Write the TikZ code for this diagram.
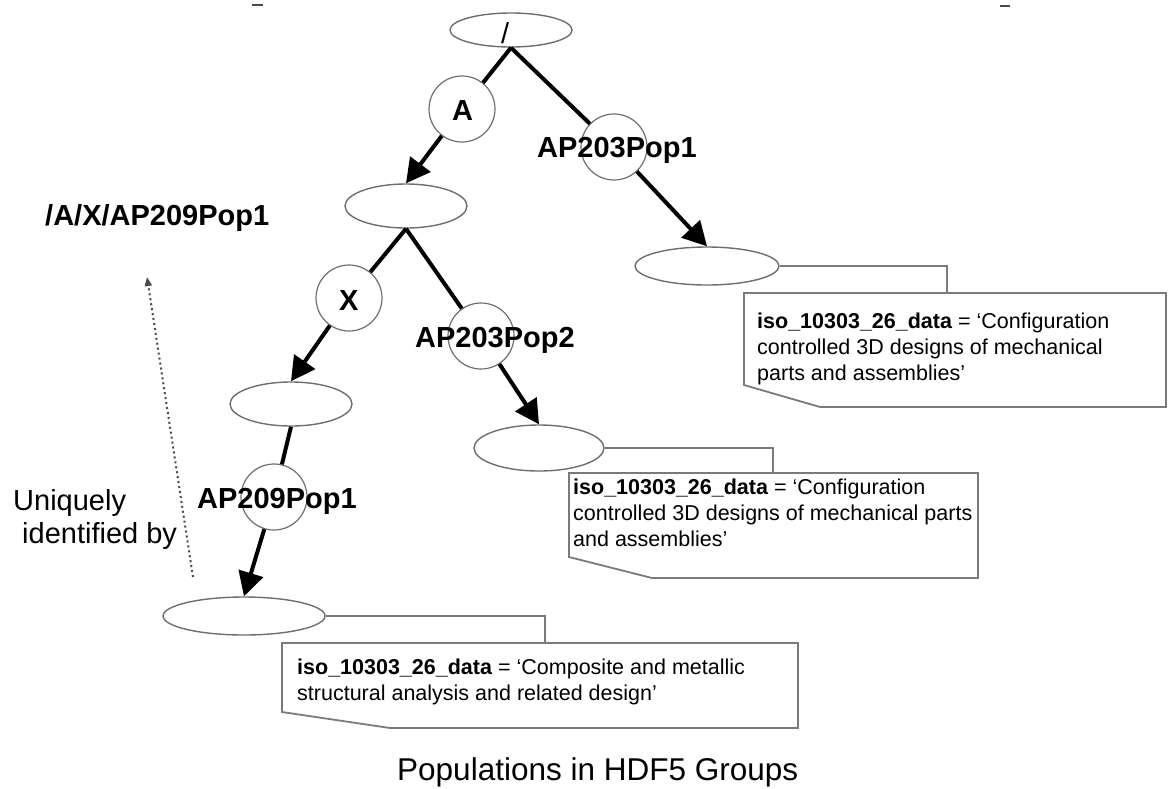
\documentclass[tikz,border=0pt]{standalone}
\usepackage{fontspec}
\setmainfont{Liberation Sans}
\usetikzlibrary{shapes.geometric,arrows.meta}

\definecolor{ringgray}{HTML}{6E6E6E}
\definecolor{boxgray}{HTML}{7A7A7A}
\definecolor{dotgray}{HTML}{4A4A4A}

\begin{document}
\begin{tikzpicture}[x=1pt,y=-1pt,
  grp/.style={ellipse,draw=ringgray,line width=1.4pt,fill=white,inner sep=0pt},
  lnk/.style={circle,draw=ringgray,line width=1.2pt,inner sep=0pt,minimum size=66pt},
  lbl/.style={font=\fontsize{29}{33}\selectfont\bfseries,inner sep=0pt,anchor=base west},
  plain/.style={font=\fontsize{29}{33}\selectfont,inner sep=0pt,anchor=base west},
  solidline/.style={line width=4pt},
  arr/.style={solidline,-{Triangle[length=24pt,width=25pt]}},
  callout/.style={draw=boxgray,line width=1.8pt,fill=white,line join=miter},
  leader/.style={draw=boxgray,line width=1.6pt},
  note/.style={font=\fontsize{21.5}{26}\selectfont,align=left,inner sep=0pt,anchor=north west},
]
\useasboundingbox (0,0) rectangle (1169,788);

% stray marks along the top edge
\draw[line width=2pt,dotgray] (252,5) -- (263,5);
\draw[line width=2pt,dotgray] (1000,6) -- (1010,6);

% group nodes (ellipses)
\node[grp,minimum width=122pt,minimum height=34pt] (root) at (511,30) {};
\node[grp,minimum width=122pt,minimum height=44pt] (eA) at (406,206) {};
\node[grp,minimum width=144pt,minimum height=38pt] (eP1) at (707,266) {};
\node[grp,minimum width=122pt,minimum height=44pt] (eX) at (291,404) {};
\node[grp,minimum width=130pt,minimum height=46pt] (eP2) at (539,448) {};
\node[grp,minimum width=162pt,minimum height=38pt] (eP9) at (244,616) {};

% link nodes (circles)
\node[lnk] (cA) at (462,109) {};
\node[lnk] (cP1) at (614,147) {};
\node[lnk] (cX) at (349,298) {};
\node[lnk] (cP2) at (481,336) {};
\node[lnk] (cP9) at (274,497) {};

% tree edges
\draw[solidline] (root.south) -- (cA);
\draw[arr] (cA) -- (eA.north);
\draw[solidline] (root.south) -- (cP1);
\draw[arr] (cP1) -- (eP1.north);
\draw[solidline] (eA.south) -- (cX);
\draw[arr] (cX) -- (eX.north);
\draw[solidline] (eA.south) -- (cP2);
\draw[arr] (cP2) -- (eP2.north);
\draw[solidline] (eX.south) -- (cP9);
\draw[arr] (cP9) -- (eP9.north);

% link labels
\node[font=\fontsize{29}{33}\selectfont,inner sep=0pt,anchor=base west] (tRoot) at (501,43) {/};
\node[lbl] (tA) at (452,120) {A};
\node[lbl] (tX) at (339,310) {X};
\node[lbl] (tP1) at (537,157) {AP203Pop1};
\node[lbl] (tP2) at (415,347) {AP203Pop2};
\node[lbl] (tP9) at (197,508) {AP209Pop1};

% attribute callouts
\coordinate (k1) at (947,293);
\coordinate (k2) at (773,473);
\coordinate (k3) at (545,643);
\draw[leader] (eP1.east) -| (k1);
\draw[leader] (eP2.east) -| (k2);
\draw[leader] (eP9.east) -| (k3);

\draw[callout] (744,293) -- (1166,293) -- (1166,407) -- (820,407) -- (744,385) -- cycle;
\draw[callout] (569,473) -- (978,473) -- (978,578) -- (652,578) -- (569,557) -- cycle;
\draw[callout] (282,643) -- (798,643) -- (798,728) -- (390,728) -- (282,712) -- cycle;

\node[note] (n1) at (757,313) {\textbf{iso\_10303\_26\_data} = ‘Configuration\\controlled 3D designs of mechanical\\parts and assemblies’};
\node[note] (n2) at (573,479) {\textbf{iso\_10303\_26\_data} = ‘Configuration\\controlled 3D designs of mechanical parts\\and assemblies’};
\node[note] (n3) at (297,659) {\textbf{iso\_10303\_26\_data} = ‘Composite and metallic\\structural analysis and related design’};

% path annotation
\node[lbl] (path) at (45,225) {/A/X/AP209Pop1};
\node[plain] (u1) at (13,510) {Uniquely};
\node[plain] (u2) at (22,543) {identified by};
\coordinate (dS) at (193,577);
\coordinate (dE) at (147,277);
\draw[dotgray,line width=2pt,dash pattern=on 2pt off 3pt,-{Triangle[length=9pt,width=7pt]}] (dS) -- (dE);

% caption
\node[font=\fontsize{31.5}{36}\selectfont,inner sep=0pt,anchor=base west] (title) at (397,780) {Populations in HDF5 Groups};
\end{tikzpicture}
\end{document}
